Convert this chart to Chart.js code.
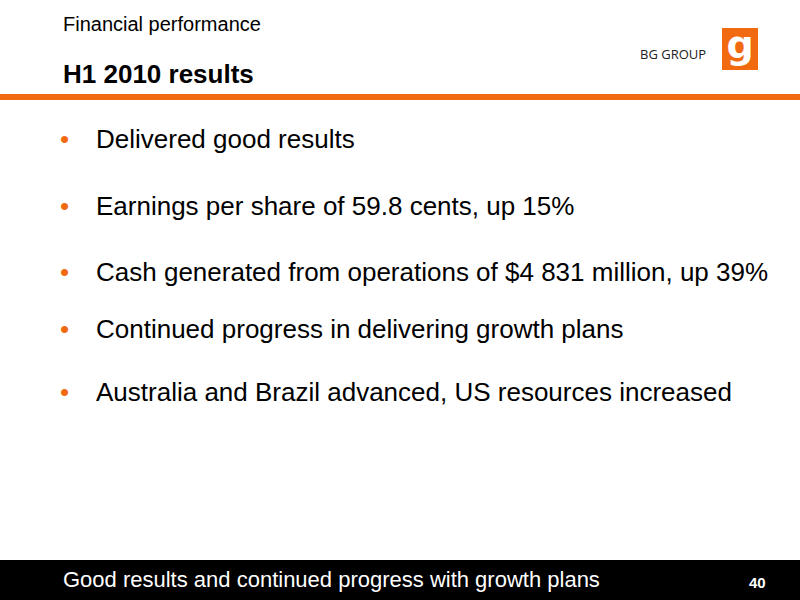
<!DOCTYPE html>
<html><head><meta charset="utf-8">
<script src="https://cdn.jsdelivr.net/npm/chart.js"></script>
<style>
body{margin:0;width:800px;height:600px;position:relative;background:#fff;font-family:"Liberation Sans",Arial,sans-serif;overflow:hidden}
.t{position:absolute;white-space:nowrap}
</style></head><body>
<div class="t" style="left:63px;top:13px;font-size:20px;color:#000">Financial performance</div>
<div class="t" style="left:63px;top:59px;font-size:26px;font-weight:bold;color:#000">H1 2010 results</div>
<div class="t" style="left:640px;top:45px;font-size:13px;color:#222;font-family:'Open Sans',sans-serif">BG GROUP</div>
<div style="position:absolute;left:722px;top:28px;width:36px;height:42px;background:#f26a10;color:#fff;font:bold 38px 'DejaVu Sans';text-align:center;line-height:34px">g</div>
<div style="position:absolute;left:0;top:94px;width:800px;height:6px;background:#f26a10"></div>
<div id="bullets"></div>
<canvas id="c" width="1" height="1" style="position:absolute;left:0;top:0;width:1px;height:1px"></canvas>
<div style="position:absolute;left:0;top:560px;width:800px;height:40px;background:#000"></div>
<div class="t" style="left:63px;top:567px;font-size:22px;color:#fff">Good results and continued progress with growth plans</div>
<div class="t" style="left:749px;top:574px;font-size:15px;font-weight:bold;color:#fff">40</div>
<script>
const bullets=["Delivered good results","Earnings per share of 59.8 cents, up 15%","Cash generated from operations of $4 831 million, up 39%","Continued progress in delivering growth plans","Australia and Brazil advanced, US resources increased"];
const bulletTops=[124,191,257,314,377];
const host=document.getElementById('bullets');
bullets.forEach((b,i)=>{
  const d=document.createElement('div');d.className='t';
  d.style.cssText=`left:60px;top:${bulletTops[i]}px;font-size:26px;color:#000`;
  d.innerHTML=`<span style="color:#f26a10;display:inline-block;width:36px">•</span>${b}`;
  host.appendChild(d);
});
new Chart(document.getElementById('c'),{type:'bar',data:{labels:[],datasets:[]},options:{responsive:false,animation:false,plugins:{legend:{display:false}},scales:{x:{display:false},y:{display:false}}}});
</script>
</body></html>
